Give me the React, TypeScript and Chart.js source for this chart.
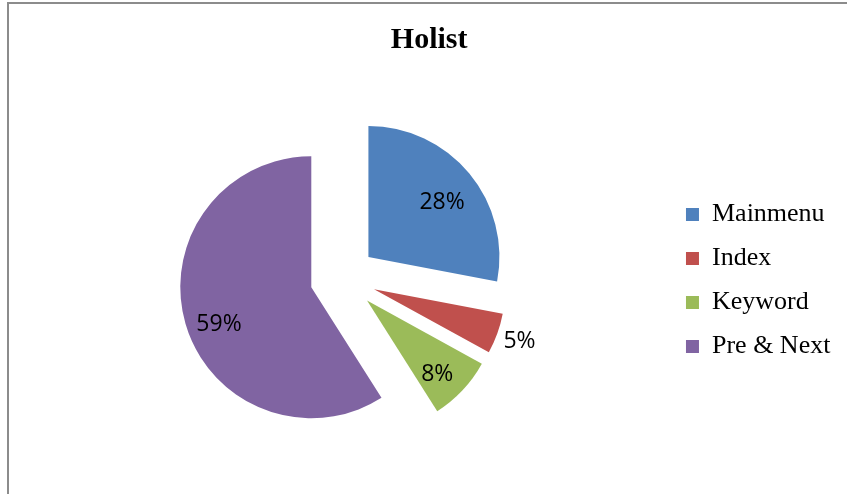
import React, { useEffect, useRef } from "react";
import { Chart, registerables } from "chart.js";

Chart.register(...registerables);

const categories = ["Mainmenu", "Index", "Keyword", "Pre & Next"];
const shares = [28, 5, 8, 59];
const sliceColors = ["#4F81BD", "#C0504D", "#9BBB59", "#8064A2"];
const chartTitle = "Holist";

const EXPLODE = 33;
const LABEL_RADIUS = [0.7, 1.18, 0.78, 0.76];
const LABEL_ANGLE_SHIFT = [3, 0, 3.4, -5.8];

const explodePlugin = {
  id: "explodeSlices",
  beforeDatasetsDraw(chart: any) {
    const ctx = chart.ctx;
    const meta = chart.getDatasetMeta(0);
    meta.data.forEach((arc: any) => {
      const p = arc.getProps(["startAngle", "endAngle"], true);
      const mid = (p.startAngle + p.endAngle) / 2;
      ctx.save();
      ctx.translate(Math.cos(mid) * EXPLODE, Math.sin(mid) * EXPLODE);
      arc.draw(ctx);
      ctx.restore();
    });
    return false;
  },
  afterDraw(chart: any) {
    const ctx = chart.ctx;
    const meta = chart.getDatasetMeta(0);
    const values = chart.data.datasets[0].data as number[];
    ctx.save();
    ctx.font = '23px "Open Sans"';
    ctx.fillStyle = "#000";
    ctx.textAlign = "center";
    ctx.textBaseline = "middle";
    meta.data.forEach((arc: any, i: number) => {
      const p = arc.getProps(["x", "y", "startAngle", "endAngle", "outerRadius"], true);
      const mid = (p.startAngle + p.endAngle) / 2;
      const ax = p.x + Math.cos(mid) * EXPLODE;
      const ay = p.y + Math.sin(mid) * EXPLODE;
      const a = mid + (LABEL_ANGLE_SHIFT[i] * Math.PI) / 180;
      const r = p.outerRadius * LABEL_RADIUS[i];
      ctx.fillText(values[i] + "%", ax + Math.cos(a) * r, ay + Math.sin(a) * r);
    });
    ctx.restore();
  },
};

export default function App() {
  const canvasRef = useRef<HTMLCanvasElement | null>(null);

  useEffect(() => {
    if (!canvasRef.current) return;
    const chart = new Chart(canvasRef.current, {
      type: "pie",
      data: {
        labels: categories,
        datasets: [
          {
            data: shares,
            backgroundColor: sliceColors,
            borderWidth: 0,
          },
        ],
      },
      options: {
        animation: false,
        responsive: true,
        maintainAspectRatio: false,
        radius: 131,
        layout: { padding: { left: 18, right: 6.6, top: 0, bottom: 0 } },
        plugins: {
          tooltip: { enabled: false },
          title: {
            display: true,
            text: chartTitle,
            color: "#000",
            font: { family: '"Liberation Serif"', size: 30, weight: "bold", lineHeight: 1.2 },
            padding: { top: 22, bottom: 4 },
          },
          legend: {
            display: true,
            position: "right",
            fullSize: false,
            title: { display: true, text: " ", padding: { top: 4, bottom: 0 }, font: { size: 1 } },
            labels: {
              color: "#000",
              boxWidth: 13,
              boxHeight: 13,
              padding: 18,
              font: { family: '"Liberation Serif"', size: 26 },
            },
          },
        },
      } as any,
      plugins: [explodePlugin],
    });
    return () => chart.destroy();
  }, []);

  return (
    <div style={{ position: "absolute", left: 0, top: 0, width: 847, height: 494, overflow: "hidden", background: "#fff" }}>
      <div
        style={{
          position: "absolute",
          left: 7,
          top: 2,
          width: 1000,
          height: 1000,
          borderLeft: "2px solid #8c8c8c",
          borderTop: "2px solid #8c8c8c",
          pointerEvents: "none",
        }}
      />
      <canvas ref={canvasRef} style={{ position: "relative" }} />
    </div>
  );
}
